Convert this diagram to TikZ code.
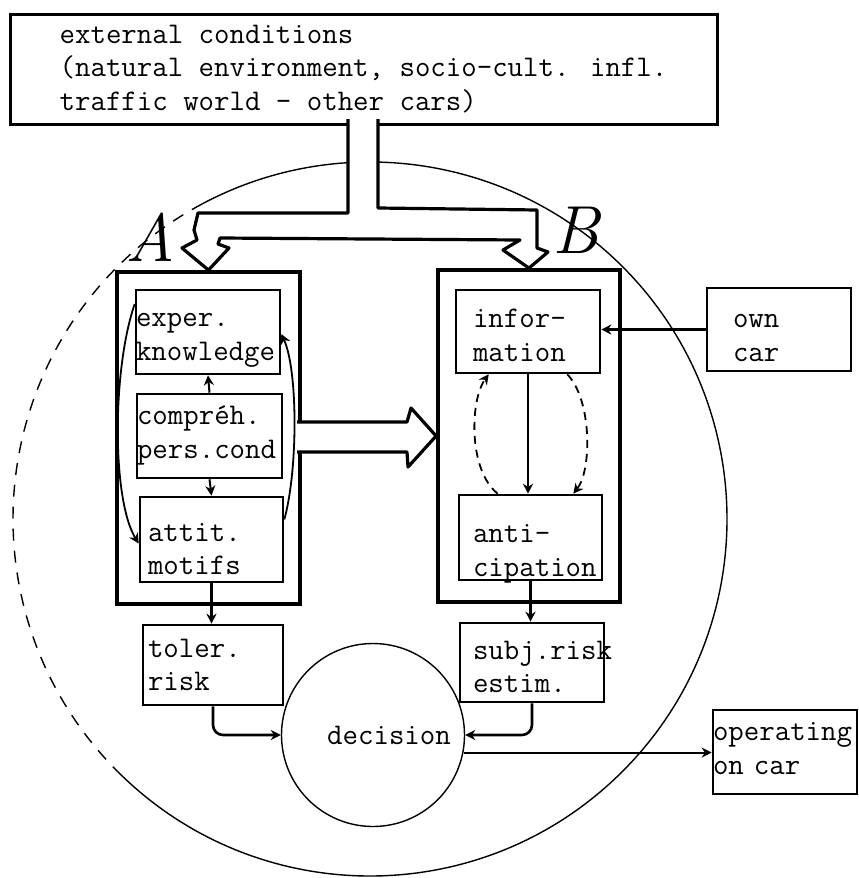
\documentclass[tikz,border=0pt]{standalone}
\usepackage{fontspec}
\usetikzlibrary{arrows.meta}
\newcommand{\boxfont}{\ttfamily\fontsize{15}{16.8}\selectfont\hyphenpenalty=10000\exhyphenpenalty=10000}
\newcommand{\handfont}{\itshape\fontsize{34}{34}\selectfont}

\begin{document}
\begin{tikzpicture}[x=0.5pt,y=-0.5pt]
\tikzstyle{every node}+=[inner sep=0pt]
\tikzstyle{unitbox}=[draw, line width=1.3pt, fill=white, align=left, font=\boxfont]
\tikzstyle{colbox}=[draw, line width=1.9pt]
\tikzstyle{arrowline}=[-{Stealth[length=5pt,width=5pt]}, line width=1.1pt]
\tikzstyle{guess}=[dash pattern=on 4pt off 3pt, line width=0.9pt]
\useasboundingbox (0,0) rectangle (858,878);
% the ring
\coordinate (ring) at (370,519);
\draw [line width=0.7pt] (ring) ++(225:178.5pt) arc [start angle=225, end angle=478, radius=178.5pt];
\draw [line width=0.7pt, dash pattern=on 6pt off 5pt] (ring) ++(118:178.5pt) arc [start angle=118, end angle=225, radius=178.5pt];
\node [unitbox, line width=1.5pt, minimum width=353.5pt, minimum height=55pt] (ext) at (363.5,69) {external conditions\\(natural environment, socio-cult. infl.\\traffic world - other cars)};
\node [colbox, minimum width=91.5pt, minimum height=166pt] (colA) at (208.5,438) {};
\node [colbox, minimum width=91pt, minimum height=166pt] (colB) at (529,436) {};
\node [unitbox, minimum width=72pt, minimum height=42pt, text width=72pt, text height=12.25pt, text depth=17.55pt] (know) at (208,332) {exper.\\knowledge};
\node [unitbox, minimum width=72.5pt, minimum height=42pt, text width=72.5pt, text height=9.25pt, text depth=20.55pt] (compr) at (209.5,436) {compr\'eh.\\pers.cond};
\node [unitbox, minimum width=71.5pt, minimum height=42.5pt, text width=63.5pt, inner xsep=4pt, text height=15.75pt, text depth=14.05pt] (motif) at (211.5,539.5) {attit.\\motifs};
\node [unitbox, minimum width=72pt, minimum height=41.5pt, text width=55pt, inner xsep=8.5pt, text height=13pt, text depth=16.8pt] (info) at (528,331.5) {infor-\\mation};
\node [unitbox, minimum width=71.5pt, minimum height=42.5pt, text width=57.5pt, inner xsep=7pt, text height=17.5pt, text depth=12.3pt] (antic) at (530.5,537.5) {anti-\\cipation};
\node [unitbox, minimum width=72pt, minimum height=41.5pt, text width=46pt, inner xsep=13pt, text height=14pt, text depth=15.8pt] (owncar) at (779,329.5) {own\\car};
\node [unitbox, minimum width=70pt, minimum height=40pt, text width=65pt, inner xsep=2.5pt, text height=11pt, text depth=18.8pt] (toler) at (213,665) {toler.\\risk};
\node [unitbox, minimum width=72pt, minimum height=39.5pt, text width=59pt, inner xsep=6.5pt, text height=13.25pt, text depth=16.55pt] (subj) at (532,662.5) {subj.risk\\estim.};
\node [unitbox, minimum width=72pt, minimum height=42pt, text width=72pt, text height=9.25pt, text depth=20.55pt] (oper) at (785,752) {operating\\on car};
\node [circle, draw, line width=0.7pt, minimum size=91.5pt, font=\boxfont] (dec) at (373,735) {\hspace*{16pt}decision};
\node [font=\handfont] (labA) at (150,237) {A};
\node [font=\handfont] (labB) at (576,230) {B};
% from the outside into A and B
\draw [line width=1.6pt, line join=round, fill=white] (348,119) -- (348,213) -- (198,213) -- (194,230) -- (197,240) -- (182,248) -- (colA.north) -- (229,248) -- (218,244) -- (220,238) -- (520,240) -- (503,250) -- (colB.north) -- (548,252) -- (537,248) -- (537,210) -- (378,208) -- (378,119);
\draw [line width=1.6pt, line join=round, fill=white] (297,422) -- (407,422) -- (411,408) -- (colB.west) -- (408,467) -- (407,452) -- (297,452);
% A
\draw [arrowline, line width=1pt] (compr.north) -- (know.south);
\draw [arrowline, line width=1pt] (compr.south) -- (motif.north);
\draw [arrowline, line width=0.9pt] ([yshift=14pt]know.west) .. controls (112,370) and (112,500) .. ([yshift=-2pt]motif.west);
\draw [arrowline, line width=0.9pt] ([yshift=10pt]motif.east) .. controls (298,470) and (298,370) .. ([yshift=-1pt]know.east);
% B
\draw [arrowline] (info.south) -- (info.south |- antic.north);
\draw [arrowline, guess] ([xshift=20pt]antic.north west) .. controls (468,470) and (470,400) .. ([xshift=17pt]info.south west);
\draw [arrowline, guess] ([xshift=-17pt]info.south east) .. controls (592,400) and (592,470) .. ([xshift=-15pt]antic.north east);
\draw [arrowline] (owncar.west) -- (owncar.west -| info.east);
% risk and decision
\draw [arrowline] (motif.south) -- (motif.south |- toler.north);
\draw [arrowline] (antic.south) -- (antic.south |- subj.north);
\draw [arrowline, line width=1.3pt, rounded corners=5pt] (toler.south) |- (dec.west);
\draw [arrowline, line width=1.3pt, rounded corners=5pt] (subj.south) |- (dec.east);
\draw [arrowline, line width=1pt] (dec.-11) -- (dec.-11 -| oper.west);
\end{tikzpicture}
\end{document}
